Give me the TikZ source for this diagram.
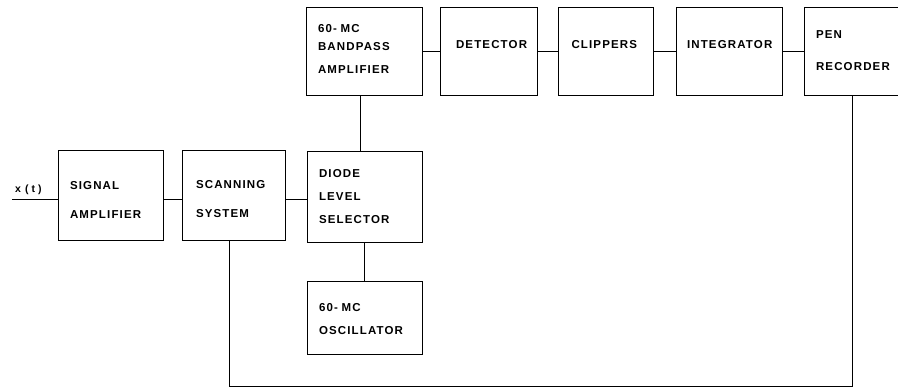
\documentclass[tikz,border=0pt]{standalone}
\usepackage{fontspec}
\setmainfont[LetterSpace=10]{Liberation Sans}
\usetikzlibrary{positioning,calc}

\begin{document}
\begin{tikzpicture}[x=1pt, y=-1pt,
        blk/.style={draw, line width=1pt, align=left, inner xsep=0pt, inner ysep=0pt,
                    font=\fontsize{11.5}{23}\selectfont\bfseries},
        down/.style={execute at begin node={\rule{0pt}{#1}}},
        wire/.style={line width=1pt},
      ]
        \useasboundingbox (0,0) rectangle (898,388);
        % front end
        \node[blk, down=18pt, minimum width=105, minimum height=90, text width=81] (sigamp) at (110.5,195) {SIGNAL\\[6pt]AMPLIFIER};
        \node[blk, down=16pt, minimum width=103, minimum height=90, text width=75] (scan) at (233.5,195) {SCANNING\\[6pt]SYSTEM};
        \node[blk, minimum width=115, minimum height=91, text width=91] (diode) at (364.5,196.5) {DIODE\\LEVEL\\SELECTOR};
        \node[blk, down=12pt, minimum width=115, minimum height=73, text width=91] (osc) at (364.5,317.5) {60- MC\\OSCILLATOR};
        % top row
        \node[blk, minimum width=116, minimum height=88, text width=92] (bpamp) at (364,51) {60- MC\\[-5pt]BANDPASS\\AMPLIFIER\\[-26pt]\strut};
        \node[blk, minimum width=97, minimum height=88, text width=65] (det) at (488.5,51) {DETECTOR\\[-16pt]\strut};
        \node[blk, minimum width=95, minimum height=88, text width=68] (clip) at (605.5,51) {CLIPPERS\\[-16pt]\strut};
        \node[blk, minimum width=106, minimum height=88, text width=84] (integ) at (729,51) {INTEGRATOR\\[-16pt]\strut};
        \node[blk, minimum width=106, minimum height=88, text width=82] (pen) at (857,51) {PEN\\[9pt]RECORDER};
        % input
        \coordinate (in) at (12,199);
        \node[font=\fontsize{10.5}{12}\selectfont\bfseries, anchor=base west, inner sep=0pt] (xt) at (15,192) {x\hspace{4pt}(\hspace{3pt}t\hspace{3pt})};
        \draw[wire] (in) -- (in -| sigamp.west);
        \draw[wire] (sigamp.east |- in) -- (scan.west |- in);
        \draw[wire] (scan.east |- in) -- (diode.west |- in);
        \draw[wire] (bpamp.east) -- (det.west);
        \draw[wire] (det.east) -- (clip.west);
        \draw[wire] (clip.east) -- (integ.west);
        \draw[wire] (integ.east) -- (integ.east -| pen.west);
        \draw[wire] (bpamp.south -| 360,0) -- (diode.north -| 360,0);
        \draw[wire] (diode.south -| 364,0) -- (osc.north -| 364,0);
        % feedback to recorder
        \coordinate (fb) at (0,386);
        \draw[wire] (scan.south -| 229,0) -- (fb -| 229,0) -- (fb -| 852,0) -- (pen.south -| 852,0);
      \end{tikzpicture}
\end{document}
